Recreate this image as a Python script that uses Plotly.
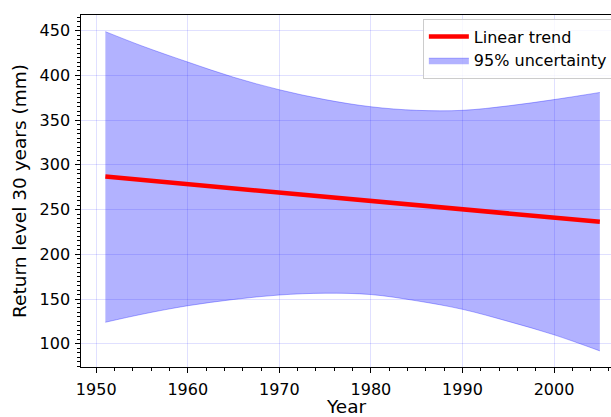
import plotly.graph_objects as go

# Observation years and the 30-year return level
years = [1951, 1955, 1960, 1965, 1970, 1975, 1980, 1985, 1990, 1995, 2000, 2005]
upper_95 = [449, 433, 415, 398, 384, 373, 365, 361, 361, 366, 373, 381]
lower_95 = [124, 133, 142.5, 149.5, 154.5, 156.5, 155, 148, 138.5, 125, 110, 92]
trend_years = [1951, 2005]
trend_values = [286.9, 236.3]

band_color = "rgba(0,0,255,0.3)"
font_family = "DejaVu Sans, sans-serif"

fig = go.Figure()

fig.add_trace(go.Scatter(
    x=years, y=lower_95, mode="lines",
    line=dict(color=band_color, width=1, shape="spline"),
    showlegend=False, hoverinfo="skip",
))
fig.add_trace(go.Scatter(
    x=years, y=upper_95, mode="lines",
    line=dict(color=band_color, width=1, shape="spline"),
    fill="tonexty", fillcolor=band_color,
    name="95% uncertainty", legendrank=2,
))
fig.add_trace(go.Scatter(
    x=trend_years, y=trend_values, mode="lines",
    line=dict(color="red", width=4.5),
    name="Linear trend", legendrank=1,
))

axis_common = dict(
    showline=True, linecolor="black", linewidth=1.3,
    ticks="outside", ticklen=4.5, tickwidth=1, tickcolor="black",
    showgrid=True, gridcolor="rgba(0,0,255,0.12)", gridwidth=1,
    zeroline=False,
    tickfont=dict(family=font_family, size=16, color="black"),
)

fig.update_xaxes(
    **axis_common,
    range=[1948.34, 2006.22], tick0=1950, dtick=10, mirror=True,
    ticklabelstandoff=3,
    minor=dict(ticks="outside", ticklen=2.5, dtick=2, tick0=1950, tickcolor="black", showgrid=False),
)
fig.update_yaxes(
    **axis_common,
    range=[74, 467.6], tick0=100, dtick=50,
    ticklabelstandoff=2,
    minor=dict(ticks="outside", ticklen=2.5, dtick=5, tick0=100, tickcolor="black", showgrid=False),
    title=dict(text="Return level 30 years (mm)", font=dict(family=font_family, size=18.5, color="black"), standoff=8),
)

# x-axis label placed below the tick labels
fig.add_annotation(
    text="Year", xref="x domain", yref="paper", x=0.5, y=-0.113,
    xanchor="center", yanchor="middle", showarrow=False,
    font=dict(family=font_family, size=18.5, color="black"),
)

fig.update_layout(
    width=611, height=417,
    margin=dict(l=81, r=0, t=15, b=50, autoexpand=False),
    plot_bgcolor="white", paper_bgcolor="white",
    font=dict(family=font_family, color="black"),
    legend=dict(
        x=0.645, y=0.99, xanchor="left", yanchor="top",
        traceorder="normal", itemwidth=40,
        bgcolor="rgba(255,255,255,0.8)", bordercolor="#cccccc", borderwidth=1,
        font=dict(family=font_family, size=16, color="black"),
    ),
)

fig.write_html("out.html")
